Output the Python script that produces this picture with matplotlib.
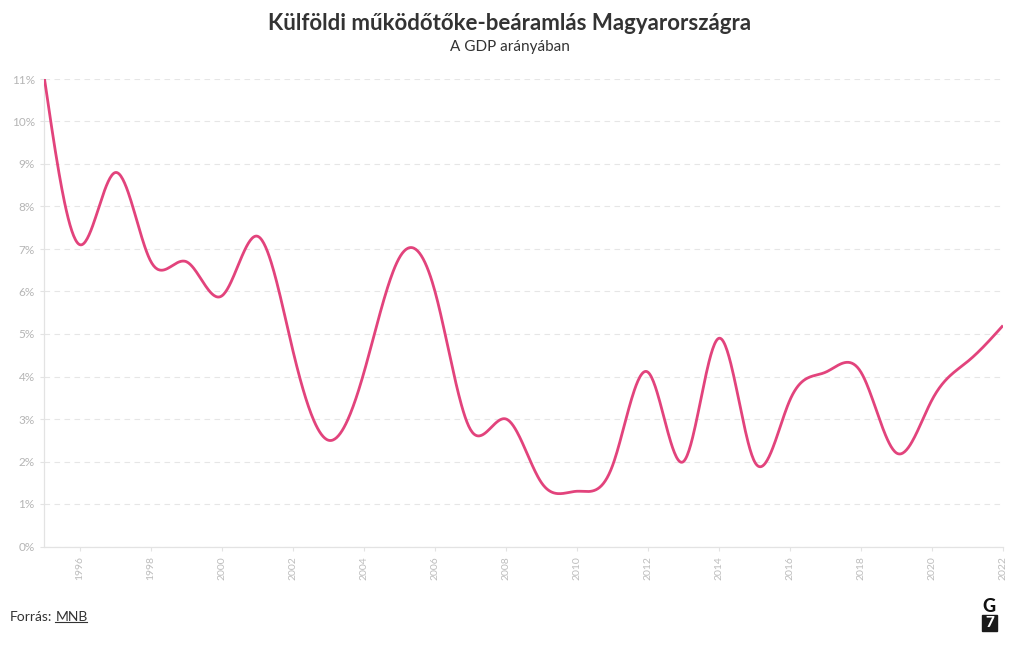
import numpy as np
import matplotlib
matplotlib.use("Agg")
import matplotlib.pyplot as plt
from matplotlib.patches import Rectangle
from matplotlib.lines import Line2D

years = list(range(1995, 2023))
values = [11.0, 7.1, 8.8, 6.7, 6.7, 5.9, 7.3, 4.6, 2.5, 4.1,
          6.8, 6.0, 2.75, 3.0, 1.5, 1.3, 1.9, 4.1, 2.0, 4.9,
          2.0, 3.45, 4.1, 4.1, 2.2, 3.45, 4.35, 5.2]
ytick_vals = list(range(0, 12))
ytick_labels = [f"{v}%" for v in ytick_vals]
xtick_vals = list(range(1996, 2023, 2))

title = "Külföldi működőtőke-beáramlás Magyarországra"
subtitle = "A GDP arányában"
LINE_COLOR = "#e2437c"
FONT = ["Lato", "DejaVu Sans"]


def natural_spline(xs, ys, n=40):
    x = np.asarray(xs, float)
    y = np.asarray(ys, float)
    N = len(x)
    h = np.diff(x)
    A = np.zeros((N, N))
    rhs = np.zeros(N)
    A[0, 0] = 1
    A[-1, -1] = 1
    for i in range(1, N - 1):
        A[i, i - 1] = h[i - 1]
        A[i, i] = 2 * (h[i - 1] + h[i])
        A[i, i + 1] = h[i]
        rhs[i] = 6 * ((y[i + 1] - y[i]) / h[i] - (y[i] - y[i - 1]) / h[i - 1])
    M = np.linalg.solve(A, rhs)
    xo, yo = [x[0]], [y[0]]
    for i in range(N - 1):
        t = np.linspace(x[i], x[i + 1], n)[1:]
        a = x[i + 1] - t
        b = t - x[i]
        hi = h[i]
        s = (M[i] * a ** 3 + M[i + 1] * b ** 3) / (6 * hi) \
            + (y[i] / hi - M[i] * hi / 6) * a + (y[i + 1] / hi - M[i + 1] * hi / 6) * b
        xo.extend(t)
        yo.extend(s)
    return np.array(xo), np.array(yo)


fig = plt.figure(figsize=(10.2, 6.5), dpi=100)
ax = fig.add_axes([44.5 / 1020, 1 - 546.5 / 650, (1003 - 44.5) / 1020, (546.5 - 79) / 650])

cx, cy = natural_spline(years, values)
ax.plot(cx, cy, color=LINE_COLOR, lw=2.0, solid_capstyle="butt", zorder=3)

ax.set_xlim(1995, 2022)
ax.set_ylim(0, 11)
ax.set_yticks(ytick_vals)
ax.set_yticklabels(ytick_labels, family=FONT, fontsize=8.5, color="#b5b5b5")
ax.set_xticks(xtick_vals)
ax.set_xticklabels([str(v) for v in xtick_vals], rotation=90, family=FONT,
                   fontsize=7.5, color="#bdbdbd")
ax.tick_params(axis="both", length=3, width=0.8, color="#e3e3e3", pad=4)
ax.tick_params(axis="x", pad=4)
ax.grid(axis="y", color="#e6e6e6", lw=0.8, ls=(0, (5, 4)))
ax.set_axisbelow(True)
for s in ["top", "right"]:
    ax.spines[s].set_visible(False)
for s in ["left", "bottom"]:
    ax.spines[s].set_color("#e3e3e3")
    ax.spines[s].set_linewidth(0.9)

fig.text(0.5, 1 - 24 / 650, title, ha="center", va="center", family=FONT,
         fontsize=16, fontweight="bold", color="#333333")
fig.text(0.5, 1 - 47 / 650, subtitle, ha="center", va="center", family=FONT,
         fontsize=11, color="#333333")

t1 = fig.text(10 / 1020, 1 - 617 / 650, "Forrás:", ha="left", va="center",
              family=FONT, fontsize=10, color="#333333")
fig.canvas.draw()
r = fig.canvas.get_renderer()
bb = t1.get_window_extent(r)
t2 = fig.text((bb.x1 + 3) / 1020, 1 - 617 / 650, "MNB", ha="left", va="center",
              family=FONT, fontsize=10, color="#333333")
fig.canvas.draw()
bb2 = t2.get_window_extent(r)
fig.add_artist(Line2D([bb2.x0 / 1020, (bb2.x1 - 1) / 1020], [(bb2.y0 + 1.5) / 650] * 2,
                      color="#333333", lw=0.8))

# G7 logo
fig.text(989 / 1020, 1 - 606 / 650, "G", ha="center", va="center", family=FONT,
         fontsize=13, fontweight="black", color="#111111")
fig.add_artist(Rectangle((982 / 1020, 1 - 631 / 650), 15 / 1020, 16 / 650,
                         transform=fig.transFigure, color="#1a1a1a"))
fig.text(989.5 / 1020, 1 - 623 / 650, "7", ha="center", va="center", family=FONT,
         fontsize=11, fontweight="black", color="white")

fig.savefig("out.png", dpi=100)
